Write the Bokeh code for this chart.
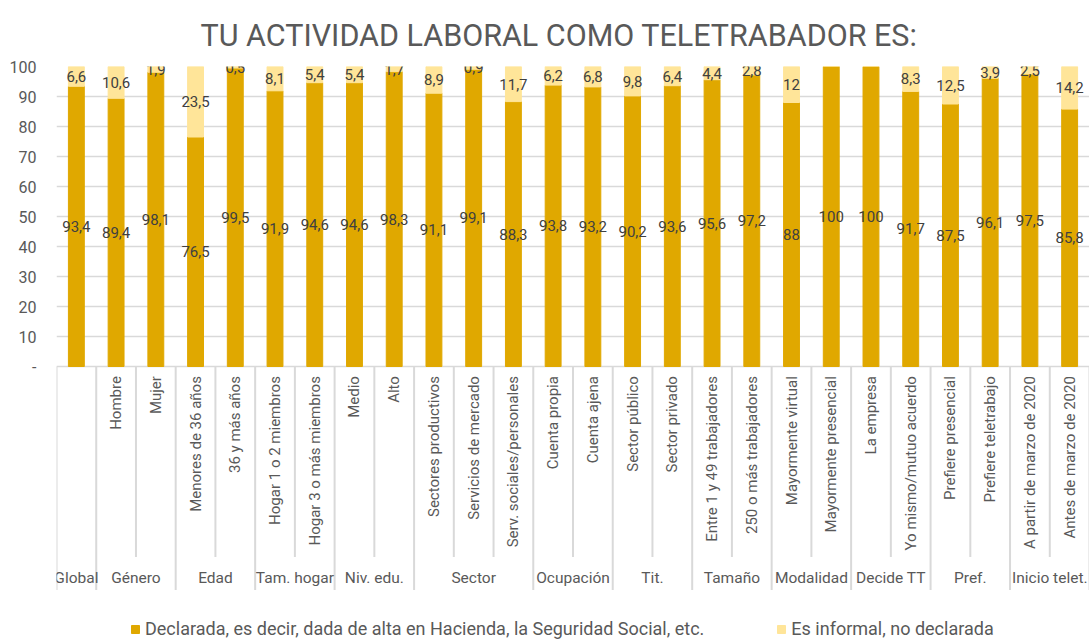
from bokeh.plotting import figure
from bokeh.models import ColumnDataSource, FactorRange, Range1d, FixedTicker, Legend, LegendItem
from bokeh.core.properties import value
from bokeh.embed import file_html
from bokeh.resources import INLINE

# ---- data ----
group_names = ["Global", "Género", "Edad", "Tam. hogar", "Niv. edu.", "Sector",
               "Ocupación", "Tit.", "Tamaño", "Modalidad", "Decide TT", "Pref.",
               "Inicio telet."]
subcategories = [
    [""],
    ["Hombre", "Mujer"],
    ["Menores de 36 años", "36 y más años"],
    ["Hogar 1 o 2 miembros", "Hogar 3 o más miembros"],
    ["Medio", "Alto"],
    ["Sectores productivos", "Servicios de mercado", "Serv. sociales/personales"],
    ["Cuenta propia", "Cuenta ajena"],
    ["Sector público", "Sector privado"],
    ["Entre 1 y 49 trabajadores", "250 o más trabajadores"],
    ["Mayormente virtual", "Mayormente presencial"],
    ["La empresa", "Yo mismo/mutuo acuerdo"],
    ["Prefiere presencial", "Prefiere teletrabajo"],
    ["A partir de marzo de 2020", "Antes de marzo de 2020"],
]
declarada = [93.4, 89.4, 98.1, 76.5, 99.5, 91.9, 94.6, 94.6, 98.3, 91.1, 99.1, 88.3,
             93.8, 93.2, 90.2, 93.6, 95.6, 97.2, 88, 100, 100, 91.7, 87.5, 96.1, 97.5, 85.8]
informal = [6.6, 10.6, 1.9, 23.5, 0.5, 8.1, 5.4, 5.4, 1.7, 8.9, 0.9, 11.7,
            6.2, 6.8, 9.8, 6.4, 4.4, 2.8, 12, 0, 0, 8.3, 12.5, 3.9, 2.5, 14.2]
series_names = ["Declarada, es decir, dada de alta en Hacienda, la Seguridad Social, etc.",
                "Es informal, no declarada"]
y_ticks = [0, 10, 20, 30, 40, 50, 60, 70, 80, 90, 100]
title_text = "TU ACTIVIDAD LABORAL COMO TELETRABADOR ES:"

# ---- styles ----
C_DARK = "#E0A800"
C_LIGHT = "#FFE599"
GRID = "#D9D9D9"
TXT = "#595959"
LBL = "#404040"
FONT = "Roboto"

def fmt(v):
    return f"{v:g}".replace(".", ",")

subs_flat, groups_flat = [], []
for g, subs in zip(group_names, subcategories):
    for s in subs:
        subs_flat.append(s)
        groups_flat.append(g)
keys = [s if s else g for g, s in zip(groups_flat, subs_flat)]

src = ColumnDataSource(dict(key=keys, declarada=declarada, informal=informal))

p = figure(frame_width=1033, frame_height=573, output_backend="svg", toolbar_location=None,
           x_range=FactorRange(factors=keys, range_padding=0, factor_padding=0),
           y_range=Range1d(-91, 100),
           min_border_left=56, min_border_right=0, min_border_top=66, min_border_bottom=0)

p.title.text = title_text
p.title.align = "left"
p.title.offset = 144
p.title.vertical_align = "top"
p.title.text_font = FONT
p.title.text_font_size = "30.5px"
p.title.text_font_style = "normal"
p.title.text_color = TXT
p.title.standoff = 24

rs = p.vbar_stack(["declarada", "informal"], x="key", width=0.4, color=[C_DARK, C_LIGHT],
                  source=src)

# value labels
lab_x, lab_y, lab_t = [], [], []
for k, d, i in zip(keys, declarada, informal):
    lab_x.append(k); lab_y.append(d / 2); lab_t.append(fmt(d))
    if i > 0:
        lab_x.append(k); lab_y.append(d + i / 2); lab_t.append(fmt(i))
p.text(x=lab_x, y=lab_y, text=lab_t, text_align="center", text_baseline="middle",
       text_font=value(FONT), text_font_size="15px", text_color=LBL)

# category labels (rotated)
p.text(x=keys, y=[-3.2] * len(keys), text=subs_flat, angle=1.5708,
       text_align="right", text_baseline="middle",
       text_font=value(FONT), text_font_size="15px", text_color=TXT)

# group labels and separators
gx, gt = [], []
sep_x, sep_y1 = [], []
start = 0
for g, subs in zip(group_names, subcategories):
    n = len(subs)
    gx.append(start + n / 2)
    gt.append(g)
    sep_x.append(start); sep_y1.append(-74.5)
    for j in range(1, n):
        sep_x.append(start + j); sep_y1.append(-63.5)
    start += n
sep_x.append(start); sep_y1.append(-74.5)

p.segment(x0=sep_x, x1=sep_x, y0=[0] * len(sep_x), y1=sep_y1, line_color=GRID, line_width=2)
p.text(x=gx, y=[-70.5] * len(gx), text=gt, text_align="center", text_baseline="middle",
       text_font=value(FONT), text_font_size="15.5px", text_color=TXT)

# axes & grid
p.xaxis.visible = False
p.xgrid.visible = False
p.yaxis.ticker = FixedTicker(ticks=y_ticks)
p.yaxis.major_label_overrides = {0: "-"}
p.yaxis.axis_line_color = None
p.yaxis.major_tick_line_color = None
p.yaxis.minor_tick_line_color = None
p.yaxis.major_label_text_font = FONT
p.yaxis.major_label_text_font_size = "16px"
p.yaxis.major_label_text_color = TXT
p.yaxis.major_label_standoff = 14
p.ygrid.grid_line_color = GRID
p.ygrid.grid_line_width = 1.5
p.outline_line_color = None

# legend (inside the frame, at its bottom)
leg = Legend(items=[LegendItem(label=series_names[0], renderers=[rs[0]]),
                    LegendItem(label=series_names[1], renderers=[rs[1]])],
             orientation="horizontal", location=(74, 0))
leg.border_line_color = None
leg.background_fill_alpha = 0
leg.glyph_width = 10
leg.glyph_height = 10
leg.label_height = 18
leg.label_standoff = 5
leg.spacing = 72
leg.padding = 0
leg.margin = 0
leg.label_text_font = FONT
leg.label_text_font_size = "18px"
leg.label_text_color = TXT
p.add_layout(leg, "center")

open("out.html", "w").write(file_html(p, INLINE))
